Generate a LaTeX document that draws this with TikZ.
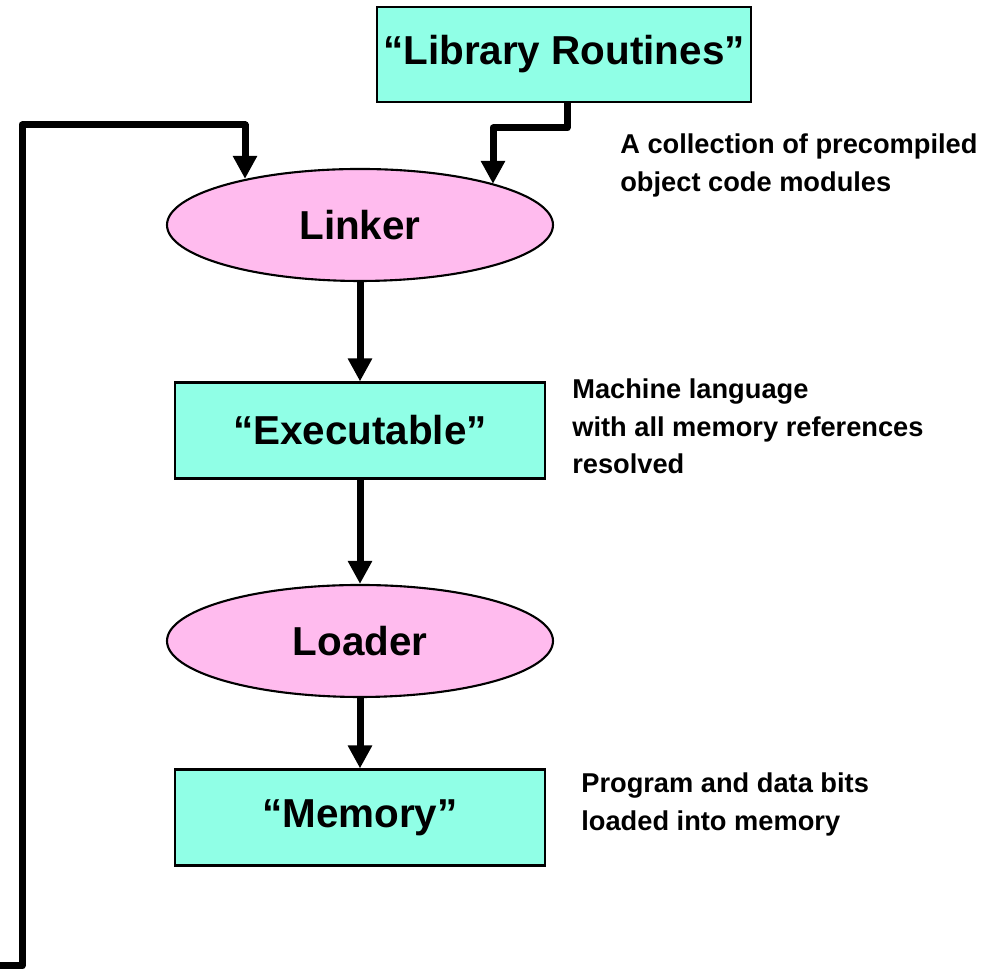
\documentclass[tikz,border=0pt]{standalone}
\usepackage{fontspec}
\setmainfont{Liberation Sans}
\usepackage{xcolor}
\usepackage{tikz}
\usetikzlibrary{shapes.geometric, arrows.meta, positioning, calc}

\definecolor{boxcyan}{RGB}{144,255,230}
\definecolor{ovalpink}{RGB}{255,187,238}

\begin{document}
\begin{tikzpicture}[>={Triangle[width=0.46cm,length=0.46cm]}]
    \tikzstyle{block} = [rectangle, draw, line width=1.2pt, fill=boxcyan, minimum width=7.4cm, minimum height=1.92cm, font=\fontsize{23}{27}\selectfont\bfseries]
    \tikzstyle{oval} = [ellipse, draw, line width=1.2pt, fill=ovalpink, minimum width=7.72cm, minimum height=2.24cm, font=\fontsize{23}{27}\selectfont\bfseries]
    \tikzstyle{note} = [anchor=north west, align=left, inner sep=0pt, font=\fontsize{15.5}{21.6}\selectfont\bfseries]
    \tikzstyle{flow} = [->, line width=0.14cm, line join=round]

    \useasboundingbox (0,0) rectangle (19.88,19.38);

    % Library
    \node[block, minimum width=7.36cm, minimum height=1.9cm] (lib) at (11.28,18.29) {“Library Routines”};
    \node[note] (libnote) at (12.4,16.72) {A collection of precompiled\\object code modules};

    % Linker
    \node[oval] (linker) at (7.2,14.88) {Linker};

    % Executable
    \node[block] (exec) at (7.2,10.77) {“Executable”};
    \node[note] (execnote) at (11.44,11.82) {Machine language\\with all memory references\\resolved};

    % Loader
    \node[oval] (loader) at (7.2,6.56) {Loader};

    % Memory
    \node[block] (mem) at (7.2,3.03) {“Memory”};
    \node[note] (memnote) at (11.62,3.94) {Program and data bits\\loaded into memory};

    % turning points
    \coordinate (libturn) at (9.86,16.82);
    \coordinate (fbin) at (0,0.06);
    \coordinate (fbtop) at (0.44,16.88);
    \coordinate (fbturn) at (4.9,16.88);

    \draw[flow] ([xshift=0.06cm]lib.south) |- (libturn) -- (libturn |- linker.17);
    \draw[flow] (fbin) -| (fbtop) -- (fbturn) -- (fbturn |- linker.158.6);
    \draw[flow] (linker) -- (exec);
    \draw[flow] (exec) -- (loader);
    \draw[flow] (loader) -- (mem);
\end{tikzpicture}
\end{document}
